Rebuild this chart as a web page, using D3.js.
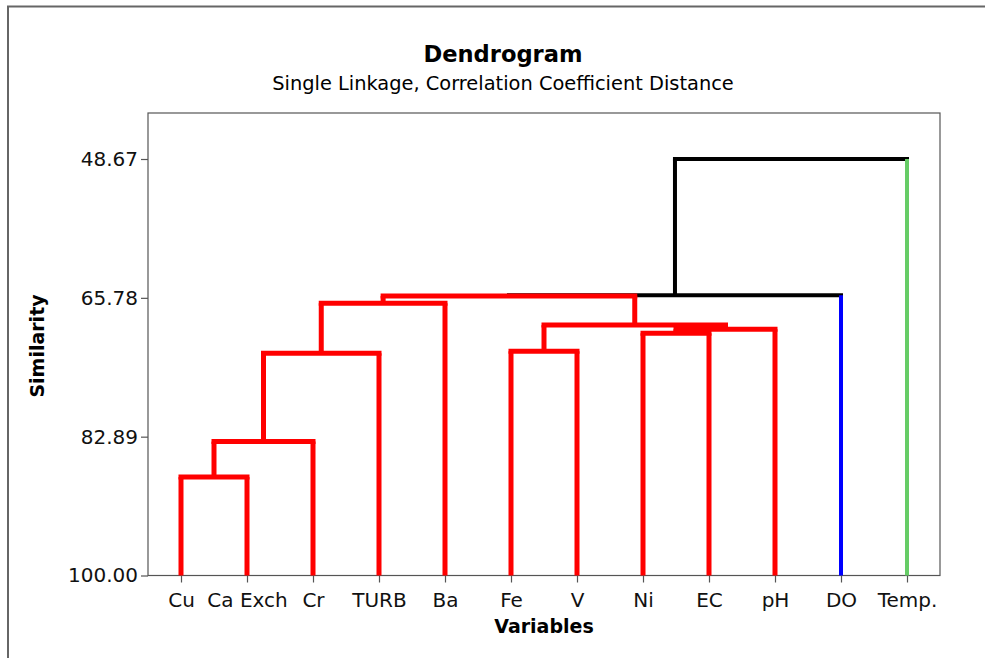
<!DOCTYPE html>
<html>
<head>
<meta charset="utf-8">
<script src="https://cdn.jsdelivr.net/npm/d3@7"></script>
<style>
  body { margin: 0; background: #fff; }
  svg { display: block; font-family: "DejaVu Sans", sans-serif; }
</style>
</head>
<body>
<div id="chart"></div>
<script>
/* Dendrogram: single linkage, correlation coefficient distance */

const variables = ['Cu', 'Ca Exch', 'Cr', 'TURB', 'Ba', 'Fe', 'V', 'Ni', 'EC', 'pH', 'DO', 'Temp.'];
// final partition (1 = red group, 2 = DO, 3 = Temp.)
const clusterOf = [1, 1, 1, 1, 1, 1, 1, 1, 1, 1, 2, 3];
const clusterColors = { 1: '#FF0000', 2: '#0000FF', 3: '#66CC66' };

// merge steps: ids 0..11 are variables, step i creates id 12 + i
const mergeLeft  = [0,  12, 13, 14, 5,  7,  17, 16, 15, 20, 21];
const mergeRight = [1,  2,  3,  4,  6,  8,  9,  18, 19, 10, 11];
const mergeSim   = [87.87, 83.5, 72.6, 66.44, 72.35, 70.13, 69.64, 69.14, 65.55, 65.45, 48.67];

const yTicks = [48.67, 65.78, 82.89, 100.00];

const width = 985;
const height = 658;
const plot = { left: 148, right: 940, top: 113, bottom: 575.5 };

// build nested tree from merge table
const nodes = variables.map((name, i) => ({ name, id: i, sim: 100 }));
mergeLeft.forEach((l, i) => {
    nodes.push({ id: 12 + i, sim: mergeSim[i], children: [nodes[l], nodes[mergeRight[i]]] });
});
const root = d3.hierarchy(nodes[nodes.length - 1]);

const x = d3.scalePoint()
    .domain(variables)
    .range([plot.left, plot.right])
    .padding(0.5);

const y = d3.scaleLinear()
    .domain([43.0, 100])
    .range([plot.top, plot.bottom]);

// node positions: leaves from the point scale, parents at midpoint of children
root.eachAfter(n => {
    if (n.children) {
        n.px = (n.children[0].px + n.children[1].px) / 2;
    } else {
        n.px = x(n.data.name);
    }
    const groups = new Set(n.leaves().map(l => clusterOf[l.data.id]));
    n.color = groups.size === 1 ? clusterColors[[...groups][0]] : '#000000';
});

const svg = d3.select('#chart')
    .append('svg')
    .attr('width', width)
    .attr('height', height);

// outer frame (top and left edges visible)
svg.append('path')
    .attr('d', `M8,${height} V6.5 H${width}`)
    .attr('fill', 'none')
    .attr('stroke', '#666')
    .attr('stroke-width', 2);

// titles
svg.append('text')
    .attr('x', 503)
    .attr('y', 62)
    .attr('text-anchor', 'middle')
    .style('font-size', '22.6px')
    .style('font-weight', 'bold')
    .text('Dendrogram');

svg.append('text')
    .attr('x', 503)
    .attr('y', 90)
    .attr('text-anchor', 'middle')
    .style('font-size', '19.4px')
    .text('Single Linkage, Correlation Coefficient Distance');

// plot box
svg.append('rect')
    .attr('x', plot.left)
    .attr('y', plot.top)
    .attr('width', plot.right - plot.left)
    .attr('height', plot.bottom - plot.top)
    .attr('fill', 'none')
    .attr('stroke', '#555')
    .attr('stroke-width', 1.2);

// axes
const yAxis = svg.append('g')
    .attr('transform', `translate(${plot.left},0)`)
    .call(d3.axisLeft(y).tickValues(yTicks).tickFormat(d3.format('.2f')).tickSize(7).tickPadding(3));

const xAxis = svg.append('g')
    .attr('transform', `translate(0,${plot.bottom})`)
    .call(d3.axisBottom(x).tickSize(7).tickPadding(10));

[yAxis, xAxis].forEach(g => {
    g.select('.domain').remove();
    g.selectAll('.tick line').attr('stroke', '#555').attr('stroke-width', 1.2);
    g.selectAll('.tick text')
        .attr('fill', '#111')
        .style('font-family', '"DejaVu Sans", sans-serif')
        .style('font-size', '20px');
});

svg.append('text')
    .attr('x', (plot.left + plot.right) / 2)
    .attr('y', 633)
    .attr('text-anchor', 'middle')
    .style('font-size', '19px')
    .style('font-weight', 'bold')
    .text('Variables');

svg.append('text')
    .attr('transform', `translate(44,346) rotate(-90)`)
    .attr('text-anchor', 'middle')
    .style('font-size', '19px')
    .style('font-weight', 'bold')
    .text('Similarity');

// dendrogram segments
const segs = [];
root.each(n => {
    if (n.parent) {
        segs.push({ x1: n.px, y1: y(n.data.sim), x2: n.px, y2: y(n.parent.data.sim), color: n.color, kind: 'v' });
    }
    if (n.children) {
        segs.push({ x1: n.children[0].px, y1: y(n.data.sim), x2: n.children[1].px, y2: y(n.data.sim), color: n.color, kind: 'h' });
    }
});
// black links underneath, cluster colours on top
segs.sort((a, b) => (a.color === '#000000' ? 0 : 1) - (b.color === '#000000' ? 0 : 1));

svg.append('g')
    .selectAll('line')
    .data(segs)
    .join('line')
    .attr('x1', d => d.x1)
    .attr('y1', d => d.y1)
    .attr('x2', d => d.x2)
    .attr('y2', d => d.y2)
    .attr('stroke', d => d.color)
    .attr('stroke-width', d => d.color === '#FF0000' ? 5 : 4)
    .attr('stroke-linecap', d => d.kind === 'h' ? 'square' : 'butt');
</script>
</body>
</html>
